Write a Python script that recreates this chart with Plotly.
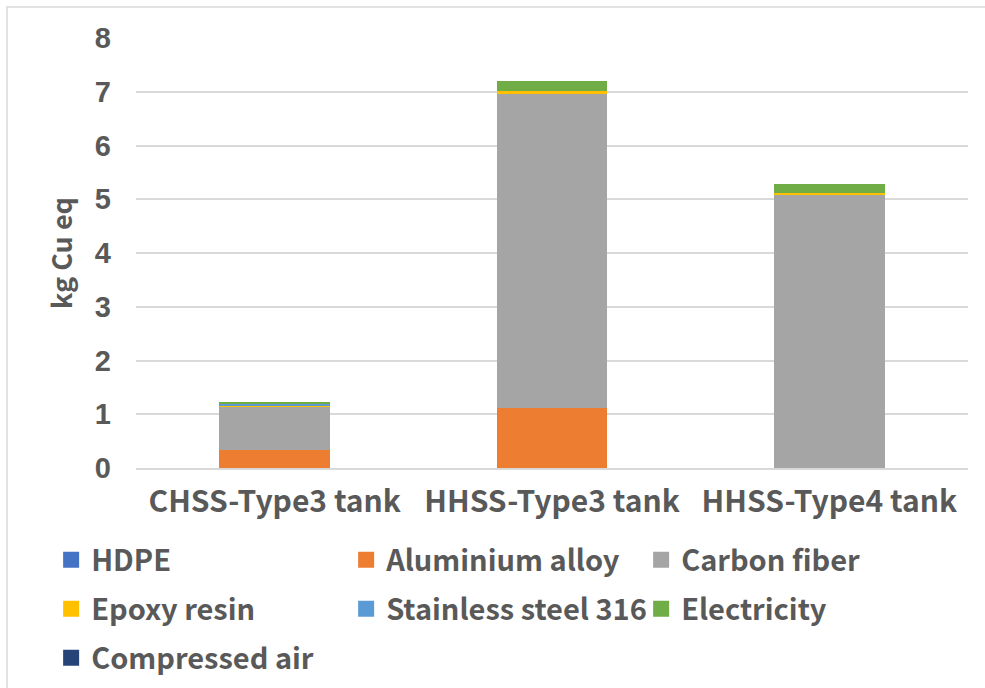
import plotly.graph_objects as go

# Tank configurations on the x axis
categories = ["CHSS-Type3 tank", "HHSS-Type3 tank", "HHSS-Type4 tank"]

# Contribution of each input to mineral resource scarcity (kg Cu eq)
hdpe = [0.0, 0.0, 0.003]
aluminium_alloy = [0.34, 1.11, 0.0]
carbon_fiber = [0.81, 5.85, 5.07]
epoxy_resin = [0.005, 0.06, 0.04]
stainless_steel_316 = [0.05, 0.0, 0.0]
electricity = [0.02, 0.18, 0.17]
compressed_air = [0.0, 0.0, 0.0]

series = [
    ("HDPE", hdpe, "#4472C4"),
    ("Aluminium alloy", aluminium_alloy, "#ED7D31"),
    ("Carbon fiber", carbon_fiber, "#A5A5A5"),
    ("Epoxy resin", epoxy_resin, "#FFC000"),
    ("Stainless steel 316", stainless_steel_316, "#5B9BD5"),
    ("Electricity", electricity, "#70AD47"),
    ("Compressed air", compressed_air, "#264478"),
]

y_ticks = [0, 1, 2, 3, 4, 5, 6, 7, 8]

TEXT = "#595959"
GRID = "#D9D9D9"
CJK = "Noto Sans CJK SC, Microsoft YaHei, sans-serif"
LATIN = "Liberation Sans, Arial, sans-serif"

# one legend per row, three entries per row
legend_ids = ["legend", "legend", "legend", "legend2", "legend2", "legend2", "legend3"]

fig = go.Figure()

for name, vals, color in series:
    fig.add_trace(go.Bar(
        x=categories, y=vals, name=name,
        marker=dict(color=color, line=dict(width=0)),
        legendgroup=name, showlegend=False,
    ))

# Square legend keys
for (name, vals, color), lg in zip(series, legend_ids):
    fig.add_trace(go.Scatter(
        x=[None], y=[None], mode="markers", name=name,
        marker=dict(symbol="square", size=16, color=color),
        legendgroup=name, showlegend=True, legend=lg,
    ))

def legend_row(y):
    return dict(
        orientation="h", x=-0.102, xanchor="left", y=y, yanchor="middle",
        entrywidth=250, entrywidthmode="pixels",
        font=dict(family=CJK, size=29, color=TEXT, weight="bold"),
        itemwidth=30, tracegroupgap=0, bgcolor="rgba(0,0,0,0)",
    )

M_T, M_B = 38, 220
plot_h = 688 - M_T - M_B

def row_y(px):
    return (688 - M_B - px) / plot_h

fig.update_layout(
    width=985, height=688,
    margin=dict(l=136, r=17, t=M_T, b=M_B, autoexpand=False),
    paper_bgcolor="white", plot_bgcolor="white",
    barmode="stack", bargap=0.6,
    font=dict(family=CJK, color=TEXT, size=28),
    legend=legend_row(row_y(560)),
    legend2=legend_row(row_y(609)),
    legend3=legend_row(row_y(658)),
    xaxis=dict(
        showgrid=False, showline=True, linecolor=GRID, linewidth=1.5,
        tickfont=dict(family=CJK, size=30, color=TEXT, weight="bold"),
        ticks="", ticklabelstandoff=6, automargin=False,
    ),
    yaxis=dict(
        range=[0, 8], tickvals=y_ticks, showgrid=True, gridcolor=GRID,
        gridwidth=1.5, zeroline=False, showline=False, ticks="",
        tickfont=dict(family=LATIN, size=29, color=TEXT, weight="bold"),
        ticklabelstandoff=24, automargin=False,
        title=dict(text="kg Cu eq",
                   font=dict(family=CJK, size=27, color=TEXT, weight="bold"),
                   standoff=14),
    ),
    shapes=[dict(
        type="rect", xref="paper", yref="paper",
        x0=-0.155, x1=1.1, y0=-0.6, y1=1.072,
        line=dict(color=GRID, width=1.5), fillcolor="rgba(0,0,0,0)",
        layer="below",
    )],
)

fig.write_html("out.html")
